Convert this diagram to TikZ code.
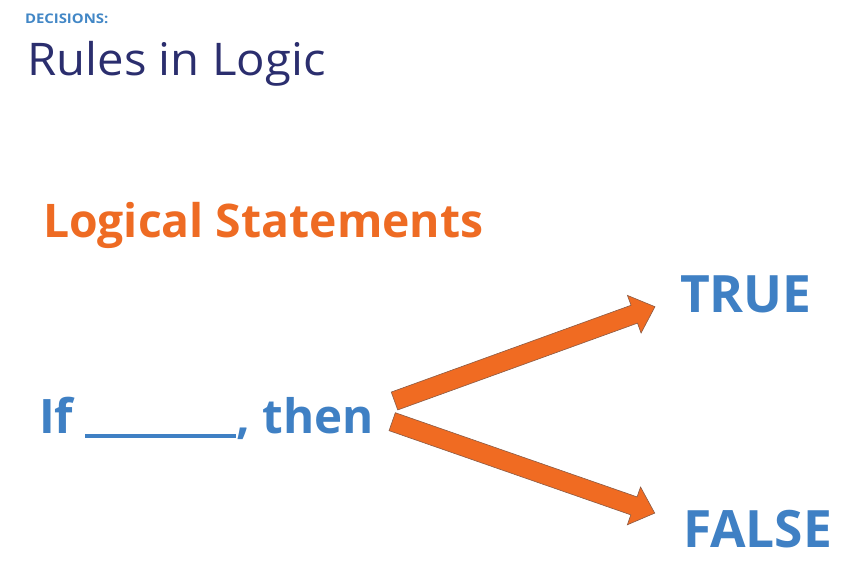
\documentclass[tikz,border=0pt]{standalone}
\usepackage{fontspec}
\setmainfont{Open Sans}
\definecolor{decblue}{HTML}{4287C6}
\definecolor{navy}{HTML}{2B2E6E}
\definecolor{orangetxt}{HTML}{EE6B23}
\definecolor{bluetxt}{HTML}{3F80C4}
\definecolor{arrowfill}{HTML}{F06B22}
\definecolor{arrowline}{HTML}{8A5A44}
\tikzset{
  txt/.style={inner sep=0pt, outer sep=0pt, anchor=base west},
  fatarrow/.style={fill=arrowfill, draw=arrowline, line width=0.6pt, line join=miter},
  bigblue/.style={txt, text=bluetxt, font=\fontsize{51.5}{62}\selectfont\bfseries}
}
\begin{document}
\begin{tikzpicture}[x=1pt, y=-1pt]
\useasboundingbox[fill=white] (0,0) rectangle (865,580);
\node[txt, text=decblue, font=\fontsize{13.3}{16}\selectfont\bfseries\addfontfeature{FakeStretch=1.12}] (dec) at (25,23.3) {DECISIONS:};
\node[txt, text=navy, font=\fontsize{45}{54}\selectfont\addfontfeature{FakeStretch=1.05}] (title) at (27.5,76) {Rules in Logic};
\node[txt, text=orangetxt, font=\fontsize{46.3}{56}\selectfont\bfseries] (ls) at (43,238) {Logical Statements};
\node[txt, text=bluetxt, font=\fontsize{47.5}{58}\selectfont\bfseries] (ifthen) at (39,433) {If \rule[-4.5pt]{151pt}{3.5pt}, then};
\node[bigblue] (true) at (680,312) {TRUE};
\node[bigblue] (false) at (683,547) {FALSE};
\coordinate (t1) at (394.5,401);
\coordinate (t2) at (392.2,421.7);
% top arrow to TRUE
\begin{scope}[shift={(t1)}, rotate=19.9]
  \draw[fatarrow] (0,-9.5) -- (255,-9.5) -- (255,-20) -- (277,0) -- (255,20) -- (255,9.5) -- (0,9.5) -- cycle;
\end{scope}
% bottom arrow to FALSE
\begin{scope}[shift={(t2)}, rotate=-19.2]
  \draw[fatarrow] (0,-9.5) -- (256,-9.5) -- (256,-20) -- (278,0) -- (256,20) -- (256,9.5) -- (0,9.5) -- cycle;
\end{scope}
\end{tikzpicture}
\end{document}
